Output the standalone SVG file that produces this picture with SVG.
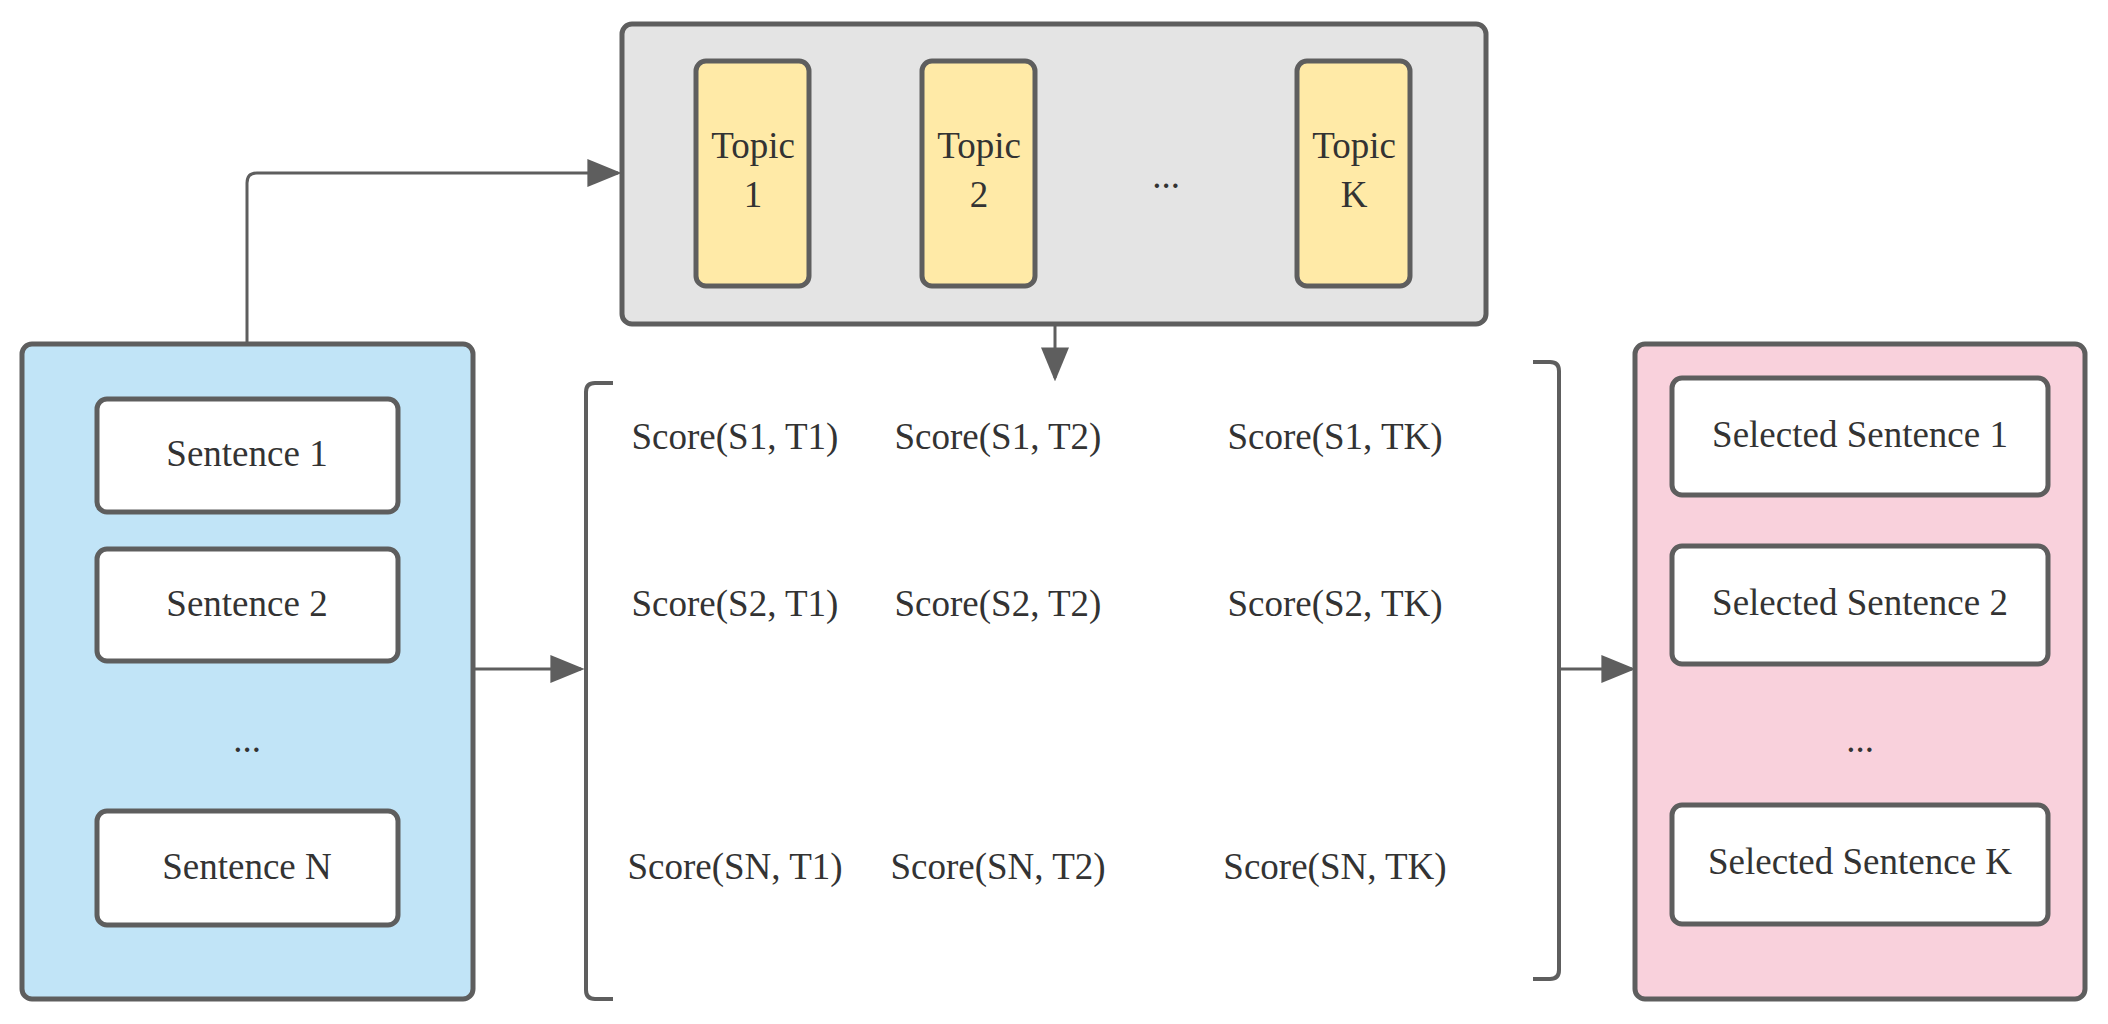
<svg xmlns="http://www.w3.org/2000/svg" width="2108" height="1024" viewBox="0 0 2108 1024">
<style>
text{font-family:"Liberation Serif",serif;font-size:37px;fill:#333;text-anchor:middle;dominant-baseline:central}
.b{stroke:#5e5e5e;stroke-width:5}
.c{fill:none;stroke:#5e5e5e;stroke-width:3}
</style>
<defs><marker id="a" viewBox="0 0 10 10" refX="9" refY="5" markerWidth="6" markerHeight="6" markerUnits="userSpaceOnUse" orient="auto"><path d="M0,0L10,5L0,10z" fill="#5e5e5e"/></marker>
<marker id="m" viewBox="0 0 10 10" refX="9" refY="5" markerWidth="34" markerHeight="28" markerUnits="userSpaceOnUse" orient="auto" preserveAspectRatio="none"><path d="M0,0L10,5L0,10z" fill="#5e5e5e"/></marker></defs>
<g id="connectors">
<path class="c" d="M247,343V183q0,-10 10,-10H618" marker-end="url(#m)"/>
<path class="c" d="M1055,324V378" marker-end="url(#m)"/>
<path class="c" d="M473,669H581" marker-end="url(#m)"/>
<path class="c" d="M1559,669H1632" marker-end="url(#m)"/>
<path class="c" style="stroke-width:4" d="M613,383H595q-9,0 -9,9V990q0,9 9,9H613"/>
<path class="c" style="stroke-width:4" d="M1533,362H1550q9,0 9,9V970q0,9 -9,9H1533"/>
</g>
<g id="topics"><rect class="b" x="622" y="24" width="864" height="300" rx="10" fill="#e4e4e4"/>
<text x="1166" y="175">...</text></g>
<g id="topic1"><rect class="b" x="696" y="61" width="113" height="225" rx="10" fill="#ffeaa7"/><text x="753" y="145">Topic</text><text x="753" y="194">1</text></g>
<g id="topic2"><rect class="b" x="922" y="61" width="113" height="225" rx="10" fill="#ffeaa7"/><text x="979" y="145">Topic</text><text x="979" y="194">2</text></g>
<g id="topicK"><rect class="b" x="1297" y="61" width="113" height="225" rx="10" fill="#ffeaa7"/><text x="1354" y="145">Topic</text><text x="1354" y="194">K</text></g>
<g id="sentences"><rect class="b" x="22" y="344" width="451" height="655" rx="10" fill="#c1e4f7"/><text x="247" y="739">...</text></g>
<g id="s1"><rect class="b" x="97" y="399" width="301" height="113" rx="10" fill="#fff"/><text x="247" y="453">Sentence 1</text></g>
<g id="s2"><rect class="b" x="97" y="549" width="301" height="112" rx="10" fill="#fff"/><text x="247" y="603">Sentence 2</text></g>
<g id="sN"><rect class="b" x="97" y="811" width="301" height="114" rx="10" fill="#fff"/><text x="247" y="866">Sentence N</text></g>
<g id="scores">
<text x="735" y="436">Score(S1, T1)</text><text x="998" y="436">Score(S1, T2)</text><text x="1335" y="436">Score(S1, TK)</text>
<text x="735" y="603">Score(S2, T1)</text><text x="998" y="603">Score(S2, T2)</text><text x="1335" y="603">Score(S2, TK)</text>
<text x="735" y="866">Score(SN, T1)</text><text x="998" y="866">Score(SN, T2)</text><text x="1335" y="866">Score(SN, TK)</text>
</g>
<g id="selected"><rect class="b" x="1635" y="344" width="450" height="655" rx="10" fill="#f9d1dc"/><text x="1860" y="739">...</text></g>
<g id="sel1"><rect class="b" x="1672" y="378" width="376" height="117" rx="10" fill="#fff"/><text x="1860" y="434">Selected Sentence 1</text></g>
<g id="sel2"><rect class="b" x="1672" y="546" width="376" height="118" rx="10" fill="#fff"/><text x="1860" y="602">Selected Sentence 2</text></g>
<g id="selK"><rect class="b" x="1672" y="805" width="376" height="119" rx="10" fill="#fff"/><text x="1860" y="861">Selected Sentence K</text></g>
</svg>
